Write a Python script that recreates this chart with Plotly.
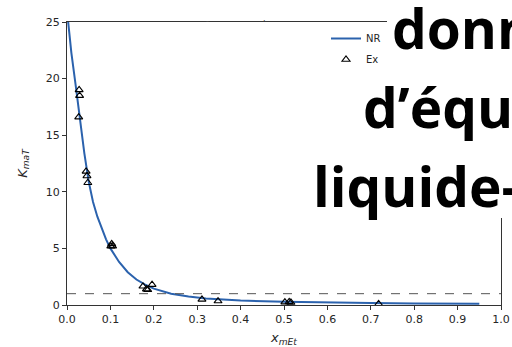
import plotly.graph_objects as go

# Experimental points (x_mEt, K_maT)
exp_x = [0.028, 0.029, 0.027, 0.044, 0.046, 0.048, 0.101, 0.103, 0.105,
         0.175, 0.183, 0.186, 0.196, 0.311, 0.348, 0.502, 0.512, 0.516, 0.718]
exp_k = [19.0, 18.5, 16.6, 11.8, 11.4, 10.8, 5.2, 5.4, 5.2,
         1.65, 1.4, 1.35, 1.8, 0.5, 0.35, 0.25, 0.28, 0.22, 0.1]

# NRTL model curve
nr_x = [0.0, 0.01, 0.02, 0.03, 0.04, 0.05, 0.06, 0.07, 0.08, 0.09, 0.10,
        0.12, 0.14, 0.16, 0.18, 0.20, 0.24, 0.28, 0.32, 0.36, 0.40,
        0.50, 0.60, 0.70, 0.80, 0.95]
nr_k = [26.0, 22.3, 19.4, 16.3, 13.4, 10.9, 9.1, 7.8, 6.7, 5.8, 5.0,
        3.8, 2.9, 2.25, 1.8, 1.45, 1.0, 0.75, 0.58, 0.47, 0.40,
        0.28, 0.21, 0.17, 0.14, 0.11]

x_ticks = [0.0, 0.1, 0.2, 0.3, 0.4, 0.5, 0.6, 0.7, 0.8, 0.9, 1.0]
y_ticks = [0, 5, 10, 15, 20, 25]

slide_lines = ["donn", "d\u2019équi", "liquide-v"]

W, H = 512, 347
L, R, T, B = 67, 11, 22, 42
pw, ph = W - L - R, H - T - B


def px(xp):
    return (xp - L) / pw


def py(yp):
    return (H - B - yp) / ph


fig = go.Figure()
fig.add_trace(go.Scatter(x=nr_x, y=nr_k, mode="lines", name="NR",
                         line=dict(color="#2b62ad", width=2),
                         legendgroup="a"))
fig.add_trace(go.Scatter(x=exp_x, y=exp_k, mode="markers", name="Ex",
                         marker=dict(symbol="triangle-up-open", size=7,
                                     color="black", line=dict(width=1.1)),
                         legendgroup="b"))

fig.add_hline(y=1, line=dict(color="#555555", width=1, dash="dash"))

axis_common = dict(showline=True, linecolor="#333333", linewidth=1,
                   mirror=True, ticks="outside", ticklen=4, tickwidth=1,
                   tickcolor="#333333", showgrid=False, zeroline=False,
                   automargin=False,
                   tickfont=dict(family="DejaVu Sans", size=11, color="#262626"))

fig.update_xaxes(range=[0, 1.0], tickvals=x_ticks,
                 ticktext=[f"{v:.1f}" for v in x_ticks],
                 title=dict(text="<i>x<sub>mEt</sub></i>",
                            font=dict(family="DejaVu Sans", size=13, color="#262626")),
                 **axis_common)
fig.update_yaxes(range=[0, 25], tickvals=y_ticks,
                 title=dict(text="<i>K<sub>maT</sub></i>",
                            font=dict(family="DejaVu Sans", size=13, color="#262626")),
                 **axis_common)

# white box of the slide text covering the chart's top-right corner
fig.add_shape(type="rect", xref="paper", yref="paper",
              x0=px(387), x1=px(520), y0=py(218), y1=py(-5),
              fillcolor="white", line=dict(width=0), layer="above")

positions = [(390, 27), (361, 106), (311, 185)]
for txt, (xp, yp) in zip(slide_lines, positions):
    fig.add_annotation(text=txt, xref="paper", yref="paper",
                       x=px(xp), y=py(yp), xanchor="left", yanchor="middle",
                       showarrow=False,
                       font=dict(family="Open Sans", size=55, color="black",
                                 weight="bold"))

for txt, xp in [("-", 204), ("·", 264)]:
    fig.add_annotation(text=txt, xref="paper", yref="paper",
                       x=px(xp), y=py(15), showarrow=False,
                       font=dict(family="DejaVu Sans", size=8, color="#444444"))

fig.update_layout(
    width=W, height=H,
    margin=dict(l=L, r=R, t=T, b=B),
    paper_bgcolor="white", plot_bgcolor="white",
    showlegend=True,
    legend=dict(x=px(326), y=py(24), xanchor="left", yanchor="top",
                bgcolor="rgba(0,0,0,0)", borderwidth=0,
                tracegroupgap=2,
                font=dict(family="DejaVu Sans", size=10, color="#262626")),
)

fig.write_html("out.html",
               config={"displayModeBar": False},
               post_script="document.body.style.margin='0';"
                           "document.body.style.overflow='hidden';")
